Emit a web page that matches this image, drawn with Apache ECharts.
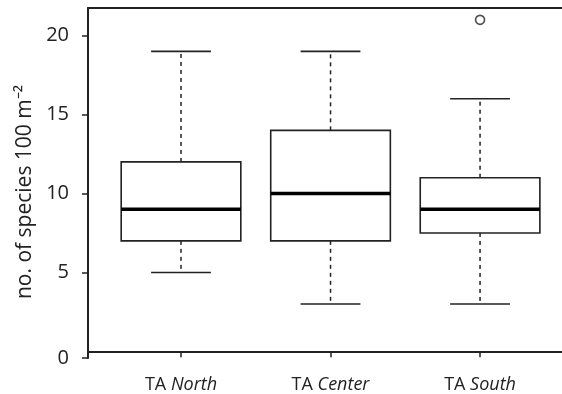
<!DOCTYPE html>
<html>
<head>
<meta charset="utf-8">
<script src="https://cdn.jsdelivr.net/npm/echarts@6/dist/echarts.min.js"></script>
<style>html,body{margin:0;padding:0;background:#fff}#c{width:562px;height:394px}</style>
</head>
<body>
<div id="c"></div>
<script>
// ---- data ----
var categories = ['North', 'Center', 'South'];
var positions = [1, 2, 3];
var lowWhisker = [5, 3, 3];
var q1 = [7, 7, 7.5];
var median = [9, 10, 9];
var q3 = [12, 14, 11];
var highWhisker = [19, 19, 16];
var outlierCat = [2];
var outlierVal = [21];
var yTicks = [0, 5, 10, 15, 20];

var yMin = -0.42, yMax = 21.75;
var xMin = 0.378, xMax = 3.548;
var ink = '#222';

var boxData = categories.map(function (c, i) {
  return [positions[i], lowWhisker[i], q1[i], median[i], q3[i], highWhisker[i]];
});
var outData = outlierCat.map(function (ci, k) { return [positions[ci], outlierVal[k]]; });

function renderBox(params, api) {
  var x = api.value(0);
  var lo = api.coord([x, api.value(1)]);
  var b1 = api.coord([x, api.value(2)]);
  var md = api.coord([x, api.value(3)]);
  var b3 = api.coord([x, api.value(4)]);
  var hi = api.coord([x, api.value(5)]);
  var w = api.size([0.80, 0])[0];
  var cw = w / 2;
  var cx = lo[0];
  var dash = { stroke: ink, lineWidth: 1.5, lineDash: [4, 4] };
  var solid = { stroke: ink, lineWidth: 1.6 };
  return {
    type: 'group',
    children: [
      { type: 'line', shape: { x1: cx, y1: b1[1], x2: cx, y2: lo[1] }, style: dash },
      { type: 'line', shape: { x1: cx, y1: b3[1], x2: cx, y2: hi[1] }, style: dash },
      { type: 'line', shape: { x1: cx - cw / 2, y1: lo[1], x2: cx + cw / 2, y2: lo[1] }, style: solid },
      { type: 'line', shape: { x1: cx - cw / 2, y1: hi[1], x2: cx + cw / 2, y2: hi[1] }, style: solid },
      { type: 'rect', shape: { x: cx - w / 2, y: b3[1], width: w, height: b1[1] - b3[1] },
        style: { fill: '#fff', stroke: ink, lineWidth: 1.6 } },
      { type: 'line', shape: { x1: cx - w / 2, y1: md[1], x2: cx + w / 2, y2: md[1] },
        style: { stroke: '#000', lineWidth: 3.6 } }
    ]
  };
}

var chart = echarts.init(document.getElementById('c'), null, { renderer: 'canvas' });
chart.setOption({
  animation: false,
  grid: { left: 88, right: 0, top: 8, bottom: 36 },
  xAxis: [{
    type: 'value', min: xMin, max: xMax,
    splitLine: { show: false },
    axisLine: { show: true, lineStyle: { color: ink, width: 2 } },
    axisTick: { show: true, customValues: positions, length: 6, lineStyle: { color: ink, width: 1.5 } },
    axisLabel: {
      customValues: positions, margin: 18,
      formatter: function (v) {
        var i = positions.indexOf(v);
        return i < 0 ? '' : 'TA {i|' + categories[i] + '}';
      },
      fontFamily: 'Open Sans', fontSize: 18, color: ink,
      rich: { i: { fontStyle: 'italic', fontFamily: 'Open Sans', fontSize: 18, color: ink } }
    }
  }, {
    type: 'value', min: xMin, max: xMax, position: 'top',
    splitLine: { show: false },
    axisLine: { show: true, lineStyle: { color: ink, width: 2 } },
    axisTick: { show: false }, axisLabel: { show: false }
  }],
  yAxis: {
    type: 'value', min: yMin, max: yMax,
    splitLine: { show: false },
    axisLine: { show: true, lineStyle: { color: ink, width: 2 } },
    axisTick: { show: true, length: 6, lineStyle: { color: ink, width: 1.5 },
      customValues: yTicks.map(function (v) { return v === 0 ? yMin : v; }) },
    axisLabel: {
      customValues: yTicks.map(function (v) { return v === 0 ? yMin : v; }),
      margin: 19, fontFamily: 'Open Sans', fontSize: 20, color: ink,
      formatter: function (v) { return v < 0 ? '0' : String(v); }
    },
    name: 'no. of species 100 m\u207B\u00B2',
    nameLocation: 'middle', nameGap: 52,
    nameTextStyle: { fontFamily: 'Open Sans', fontSize: 21, color: ink, padding: [0, 18, 0, 0] }
  },
  series: [{
    type: 'custom', renderItem: renderBox, data: boxData,
    encode: { x: 0, y: [1, 2, 3, 4, 5] }, z: 2
  }, {
    type: 'scatter', data: outData, symbol: 'circle', symbolSize: 9,
    itemStyle: { color: '#fff', borderColor: ink, borderWidth: 1.6 }, z: 3
  }]
});
</script>
</body>
</html>
